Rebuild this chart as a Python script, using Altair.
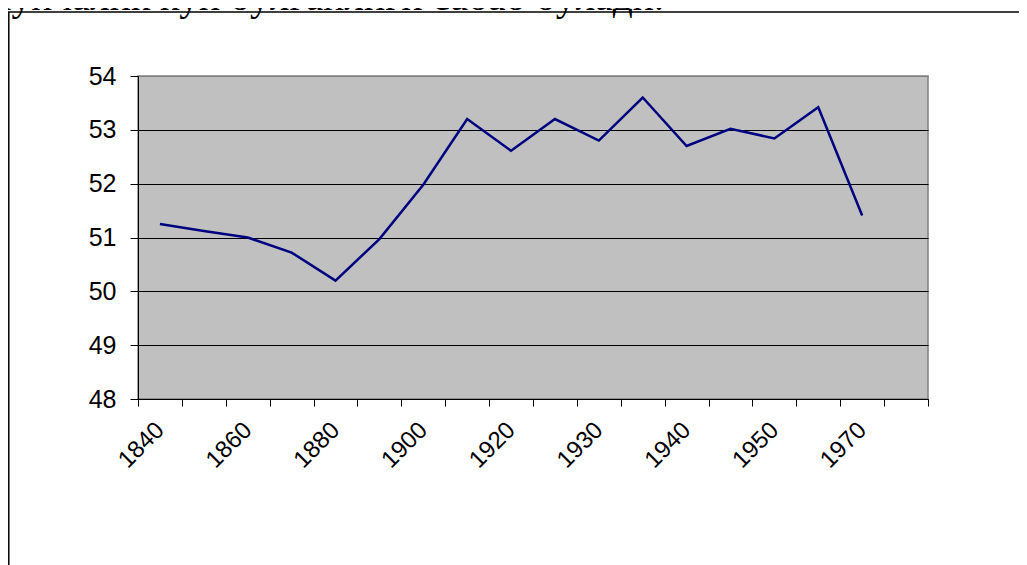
import altair as alt
import pandas as pd

# Category axis (18 slots; every other label is shown, as in the original)
categories = ["1840", "1850", "1860", "1870", "1880", "1890", "1900", "1910", "1920",
              "1925", "1930", "1935", "1940", "1945", "1950", "1960", "1970", "1980"]
shown_labels = ["1840", "1860", "1880", "1900", "1920", "1930", "1940", "1950", "1970"]
values = [51.25, 51.12, 51.0, 50.72, 50.2, 50.97, 51.98, 53.2, 52.61,
          53.2, 52.8, 53.6, 52.7, 53.02, 52.84, 53.42, 51.41]
y_ticks = [48, 49, 50, 51, 52, 53, 54]
top_text = "шунчалик кўп бўлганлиги сабаб бўлади."

df = pd.DataFrame({"cat": categories[:len(values)], "value": values})

label_list = "[" + ",".join("'" + s + "'" for s in shown_labels) + "]"

x_enc = alt.X(
    "cat:O",
    sort=categories,
    bandPosition=0.5,
    scale=alt.Scale(type="band", domain=categories, paddingInner=0, paddingOuter=0),
    axis=alt.Axis(
        title=None,
        tickBand="extent",
        tickSize=7,
        tickColor="#000000",
        domainColor="#000000",
        labelAngle=315,
        labelAlign="right",
        labelBaseline="middle",
        labelPadding=20,
        labelFontSize=24,
        labelFont="Liberation Sans",
        labelColor="#000000",
        labelOverlap=False,
        labelExpr="indexof(" + label_list + ", datum.label) >= 0 ? datum.label : ''",
        grid=False,
    ),
)

y_enc = alt.Y(
    "value:Q",
    scale=alt.Scale(domain=[48, 54], nice=False, zero=False),
    axis=alt.Axis(
        title=None,
        values=y_ticks,
        tickSize=8,
        tickColor="#000000",
        domainColor="#000000",
        labelPadding=14,
        labelFontSize=25,
        labelFont="Liberation Sans",
        labelColor="#000000",
        grid=True,
        gridColor={"condition": {"test": "datum.value >= 54", "value": "#808080"}, "value": "#000000"},
        gridOpacity=1,
        gridWidth=1,
    ),
)

line = alt.Chart(df).mark_line(color="#000080", strokeWidth=2.5).encode(x=x_enc, y=y_enc)

frame = alt.Chart(pd.DataFrame({"a": [0]})).mark_rect(
    fill="transparent", stroke="#000000", strokeWidth=1.5
).encode(
    x=alt.value(-129.2), x2=alt.value(1200), y=alt.value(-64), y2=alt.value(700)
)

caption = alt.Chart(pd.DataFrame({"a": [0]})).mark_text(
    font="Liberation Serif", fontSize=39.5, align="left", baseline="alphabetic", color="#000000"
).encode(
    x=alt.value(-157), y=alt.value(-66.5), text=alt.value(top_text)
)

chart = alt.layer(frame, line, caption).properties(
    width=790,
    height=323,
    background="#FFFFFF",
    autosize=alt.AutoSizeParams(type="none"),
    padding={"left": 130, "top": 68, "right": 91, "bottom": 166},
).configure_view(
    fill="#C0C0C0", stroke="#808080", strokeWidth=1.5
)

chart.save("out.html", embed_options={"renderer": "svg", "actions": False})
